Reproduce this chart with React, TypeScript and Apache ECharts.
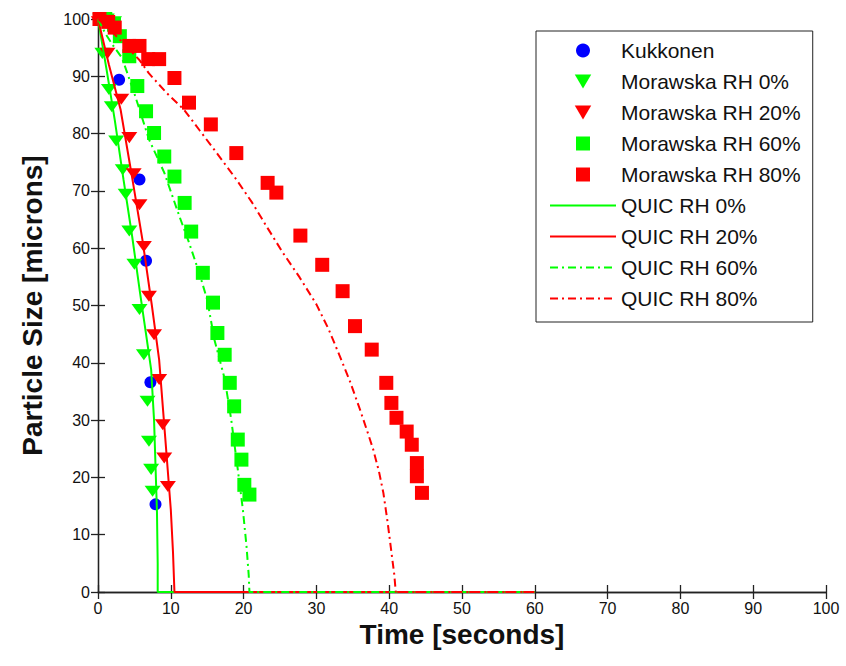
import React, { useEffect, useRef } from "react";
import * as echarts from "echarts";

// ---- data ----
const xTickMin = 0;
const xTickMax = 100;
const xTickStep = 10;
const yTickMin = 0;
const yTickMax = 100;
const yTickStep = 10;

const kukkonenTime = [2.9, 5.7, 6.6, 7.2, 7.9];
const kukkonenSize = [89.4, 72.0, 57.8, 36.6, 15.3];

const morawska0Time = [0.3, 1.2, 2.2, 0.6, 1.5, 1.9, 2.5, 3.4, 3.8, 4.3, 5.0, 5.7, 6.3, 6.8, 7.0, 7.3, 7.5];
const morawska0Size = [100, 100, 99.5, 94, 87.7, 84.7, 78.7, 73.7, 69.4, 63.0, 57.2, 49.3, 41.4, 33.3, 26.3, 21.4, 17.6];

const morawska20Time = [0.1, 1.3, 3.2, 4.3, 4.9, 5.7, 6.3, 7.0, 7.7, 8.4, 8.9, 9.1, 9.6];
const morawska20Size = [99.5, 94, 86, 79.3, 73, 67.6, 60.3, 51.6, 44.9, 37.1, 29.2, 23.4, 18.4];

const morawska60Time = [1.0, 2.2, 3.0, 4.3, 5.4, 6.6, 7.7, 9.1, 10.5, 11.9, 12.8, 14.4, 15.8, 16.4, 17.4, 18.1, 18.7, 19.2, 19.7, 20.1, 20.8];
const morawska60Size = [100, 99, 97, 93.5, 88.3, 83.9, 80.1, 76.0, 72.5, 67.9, 62.9, 55.7, 50.5, 45.2, 41.4, 36.5, 32.4, 26.6, 23.1, 18.7, 17.0];

const morawska80Time = [0.2, 1.4, 2.3, 4.3, 5.7, 6.9, 8.4, 10.5, 12.5, 15.5, 19.0, 23.3, 24.5, 27.8, 30.8, 33.6, 35.3, 37.6, 39.6, 40.3, 41.0, 42.4, 43.1, 43.8, 43.8, 44.5];
const morawska80Size = [100, 99.5, 98.5, 95.3, 95.3, 93, 93, 89.7, 85.4, 81.6, 76.6, 71.4, 69.7, 62.2, 57.1, 52.5, 46.4, 42.3, 36.5, 33.0, 30.4, 28.0, 25.7, 22.5, 20.2, 17.3];

const quic0Time = [0, 1.2, 2.3, 3.5, 4.7, 5.8, 6.6, 7.3, 7.7, 7.9, 8.1, 8.2, 8.2, 60];
const quic0Size = [100, 91, 82.4, 72, 62, 52, 45, 38.8, 30, 22, 14, 5, 0, 0];

const quic20Time = [0, 1.5, 3.1, 4.6, 6.1, 7.4, 8.4, 9.2, 10.0, 10.3, 10.5, 60];
const quic20Size = [100, 92, 84.2, 73, 61.5, 50, 40.5, 27.5, 14.4, 7, 0, 0];

const quic60Time = [0, 1, 2, 3.3, 5, 7, 9.1, 11.2, 12.5, 13.9, 15.0, 16, 17.4, 18.3, 19.2, 19.9, 20.4, 20.7, 20.8, 60];
const quic60Size = [100, 97.5, 95.5, 93.2, 87, 79, 73.2, 65.5, 61, 55.7, 51, 44, 37.2, 30.1, 21.4, 14.4, 8, 3, 0, 0];

const quic80Time = [0, 1.5, 3.3, 5.65, 7, 9.5, 11.8, 14, 16.5, 19, 21.2, 23.3, 25.4, 27.7, 30, 31.7, 33.2, 34.6, 36, 37, 37.8, 38.6, 39.2, 39.8, 40.3, 40.7, 40.9, 60];
const quic80Size = [100, 98.3, 96, 92.9, 90.5, 87, 84.2, 80.5, 76.3, 72, 67.9, 63.5, 59.2, 54.9, 50.2, 45.8, 41.2, 36.8, 31.8, 28, 24.9, 21, 17.3, 12, 7, 3, 0, 0];

const seriesNames = [
  "Kukkonen",
  "Morawska RH 0%",
  "Morawska RH 20%",
  "Morawska RH 60%",
  "Morawska RH 80%",
  "QUIC RH 0%",
  "QUIC RH 20%",
  "QUIC RH 60%",
  "QUIC RH 80%",
];

const zip = (a: number[], b: number[]) => a.map((v, i) => [v, b[i]]);

const GREEN = "#00ff00";
const RED = "#ff0000";
const BLUE = "#0000ff";
const DOWN_TRI = "path://M0,0L10,0L5,8.5Z";
const SQUARE = "path://M0,0L10,0L10,10L0,10Z";
const DASH_DOT = [8, 4, 2, 4];
const FONT = "Liberation Sans, Arial, sans-serif";

export default function App() {
  const ref = useRef<HTMLDivElement>(null);

  useEffect(() => {
    if (!ref.current) return;
    const chart = echarts.init(ref.current, undefined, { renderer: "svg" });

    const axisLine = { show: true, lineStyle: { color: "#222", width: 1.3 } };
    const tick = { show: true, inside: true, length: 7, lineStyle: { color: "#222", width: 1.3 } };

    const scatter = (name: string, t: number[], v: number[], symbol: string, size: any, color: string) => ({
      name,
      type: "scatter",
      data: zip(t, v),
      symbol,
      symbolSize: size,
      symbolKeepAspect: true,
      itemStyle: { color, opacity: 1 },
      z: 2,
    });
    const line = (name: string, t: number[], v: number[], color: string, dash: any) => ({
      name,
      type: "line",
      data: zip(t, v),
      symbol: "none",
      showSymbol: false,
      lineStyle: { color, width: 2, type: dash },
      itemStyle: { color },
      z: 3,
    });

    const legendData = [
      { name: seriesNames[0], icon: "circle" },
      { name: seriesNames[1], icon: DOWN_TRI },
      { name: seriesNames[2], icon: DOWN_TRI },
      { name: seriesNames[3], icon: SQUARE },
      { name: seriesNames[4], icon: SQUARE },
      { name: seriesNames[5], itemStyle: { opacity: 0 } },
      { name: seriesNames[6], itemStyle: { opacity: 0 } },
      { name: seriesNames[7], itemStyle: { opacity: 0 } },
      { name: seriesNames[8], itemStyle: { opacity: 0 } },
    ];

    chart.setOption({
      animation: false,
      backgroundColor: "#ffffff",
      textStyle: { fontFamily: FONT },
      grid: { left: 98, right: 20, top: 19, bottom: 74, containLabel: false },
      legend: {
        orient: "vertical",
        left: 536,
        top: 31,
        padding: [9, 12, 13, 13],
        itemWidth: 66,
        itemHeight: 14,
        itemGap: 10,
        symbolKeepAspect: true,
        borderColor: "#222",
        borderWidth: 1,
        backgroundColor: "#ffffff",
        textStyle: { fontFamily: FONT, fontSize: 21, color: "#111", lineHeight: 21 },
        data: legendData,
      },
      xAxis: [
        {
          type: "value",
          min: xTickMin,
          max: xTickMax,
          interval: xTickStep,
          position: "bottom",
          axisLine,
          axisTick: tick,
          splitLine: { show: false },
          axisLabel: { fontFamily: FONT, fontSize: 16, color: "#111", margin: 8 },
          name: "Time [seconds]",
          nameLocation: "middle",
          nameGap: 28,
          nameTextStyle: { fontFamily: FONT, fontSize: 28, fontWeight: "bold", color: "#111" },
        },
        {
          type: "value",
          min: xTickMin,
          max: xTickMax,
          interval: xTickStep,
          position: "top",
          axisLine,
          axisTick: tick,
          splitLine: { show: false },
          axisLabel: { show: false },
        },
      ],
      yAxis: [
        {
          type: "value",
          min: yTickMin,
          max: yTickMax,
          interval: yTickStep,
          position: "left",
          axisLine,
          axisTick: tick,
          splitLine: { show: false },
          axisLabel: { fontFamily: FONT, fontSize: 16, color: "#111", margin: 8 },
          name: "Particle Size [microns]",
          nameLocation: "middle",
          nameGap: 52,
          nameTextStyle: { fontFamily: FONT, fontSize: 28, fontWeight: "bold", color: "#111" },
        },
        {
          type: "value",
          min: yTickMin,
          max: yTickMax,
          interval: yTickStep,
          position: "right",
          axisLine,
          axisTick: tick,
          splitLine: { show: false },
          axisLabel: { show: false },
        },
      ],
      series: [
        scatter(seriesNames[0], kukkonenTime, kukkonenSize, "circle", 12, BLUE),
        scatter(seriesNames[1], morawska0Time, morawska0Size, DOWN_TRI, [16, 13], GREEN),
        scatter(seriesNames[2], morawska20Time, morawska20Size, DOWN_TRI, [16, 13], RED),
        scatter(seriesNames[3], morawska60Time, morawska60Size, "rect", 14, GREEN),
        scatter(seriesNames[4], morawska80Time, morawska80Size, "rect", 14, RED),
        line(seriesNames[5], quic0Time, quic0Size, GREEN, "solid"),
        line(seriesNames[6], quic20Time, quic20Size, RED, "solid"),
        line(seriesNames[7], quic60Time, quic60Size, GREEN, DASH_DOT),
        line(seriesNames[8], quic80Time, quic80Size, RED, DASH_DOT),
      ],
    });

    return () => chart.dispose();
  }, []);

  return (
    <div
      ref={ref}
      style={{ position: "fixed", left: 0, top: 0, width: 846, height: 666, background: "#fff" }}
    />
  );
}
